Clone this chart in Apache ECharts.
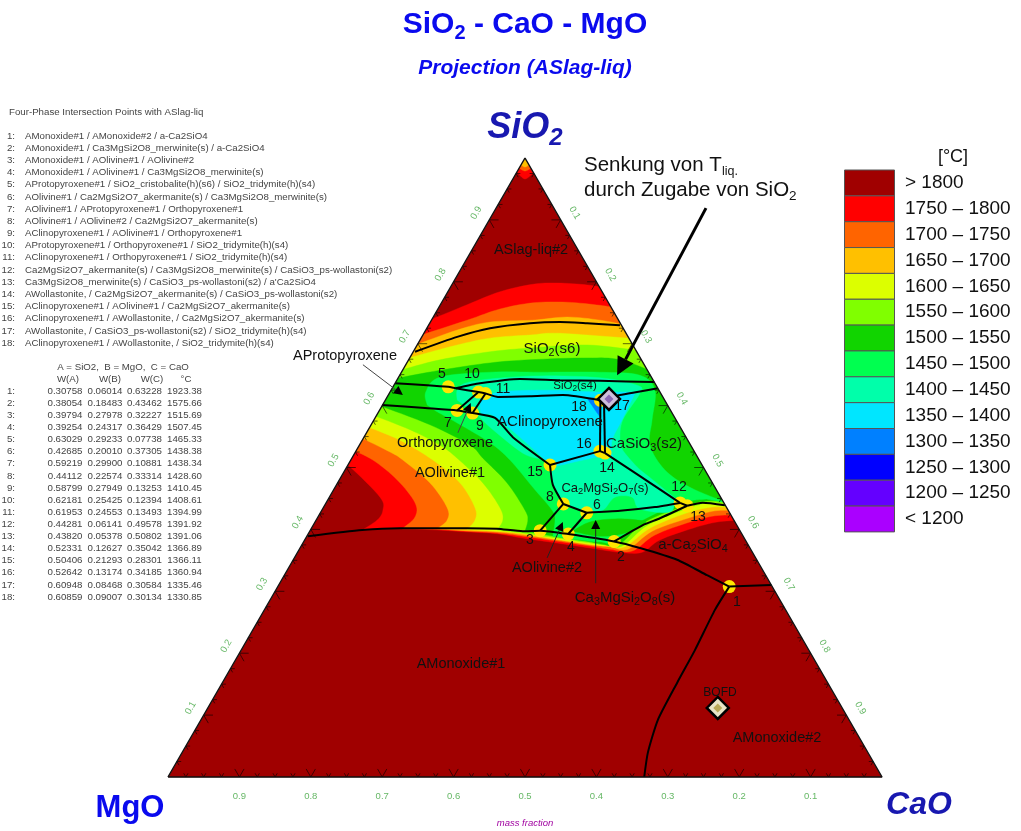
<!DOCTYPE html>
<html>
<head>
<meta charset="utf-8">
<title>SiO2 - CaO - MgO</title>
<style>
html,body{margin:0;padding:0;background:#fff}
#main{width:1021px;height:831px}
</style>
<script src="https://cdn.jsdelivr.net/npm/echarts@6/dist/echarts.min.js"></script>
</head>
<body>
<div id="main"></div>
<script>
// four-phase points, mass fractions
const pointNames = [
  'AMonoxide#1 / AMonoxide#2 / a-Ca2SiO4',
  'AMonoxide#1 / Ca3MgSi2O8_merwinite(s) / a-Ca2SiO4',
  'AMonoxide#1 / AOlivine#1 / AOlivine#2',
  'AMonoxide#1 / AOlivine#1 / Ca3MgSi2O8_merwinite(s)',
  'AProtopyroxene#1 / SiO2_cristobalite(h)(s6) / SiO2_tridymite(h)(s4)',
  'AOlivine#1 / Ca2MgSi2O7_akermanite(s) / Ca3MgSi2O8_merwinite(s)',
  'AOlivine#1 / AProtopyroxene#1 / Orthopyroxene#1',
  'AOlivine#1 / AOlivine#2 / Ca2MgSi2O7_akermanite(s)',
  'AClinopyroxene#1 / AOlivine#1 / Orthopyroxene#1',
  'AProtopyroxene#1 / Orthopyroxene#1 / SiO2_tridymite(h)(s4)',
  'AClinopyroxene#1 / Orthopyroxene#1 / SiO2_tridymite(h)(s4)',
  'Ca2MgSi2O7_akermanite(s) / Ca3MgSi2O8_merwinite(s) / CaSiO3_ps-wollastoni(s2)',
  "Ca3MgSi2O8_merwinite(s) / CaSiO3_ps-wollastoni(s2) / a'Ca2SiO4",
  'AWollastonite, / Ca2MgSi2O7_akermanite(s) / CaSiO3_ps-wollastoni(s2)',
  'AClinopyroxene#1 / AOlivine#1 / Ca2MgSi2O7_akermanite(s)',
  'AClinopyroxene#1 / AWollastonite, / Ca2MgSi2O7_akermanite(s)',
  'AWollastonite, / CaSiO3_ps-wollastoni(s2) / SiO2_tridymite(h)(s4)',
  'AClinopyroxene#1 / AWollastonite, / SiO2_tridymite(h)(s4)'
];
const wA = ['0.30758','0.38054','0.39794','0.39254','0.63029','0.42685','0.59219','0.44112','0.58799','0.62181','0.61953','0.44281','0.43820','0.52331','0.50406','0.52642','0.60948','0.60859'];
const wB = ['0.06014','0.18483','0.27978','0.24317','0.29233','0.20010','0.29900','0.22574','0.27949','0.25425','0.24553','0.06141','0.05378','0.12627','0.21293','0.13174','0.08468','0.09007'];
const wC = ['0.63228','0.43462','0.32227','0.36429','0.07738','0.37305','0.10881','0.33314','0.13253','0.12394','0.13493','0.49578','0.50802','0.35042','0.28301','0.34185','0.30584','0.30134'];
const tempC = ['1923.38','1575.66','1515.69','1507.45','1465.33','1438.38','1438.34','1428.60','1410.45','1408.61','1394.99','1391.92','1391.06','1366.89','1366.11','1360.94','1335.46','1330.85'];

// legend
const legendLabels = ['> 1800','1750 – 1800','1700 – 1750','1650 – 1700','1600 – 1650','1550 – 1600','1500 – 1550','1450 – 1500','1400 – 1450','1350 – 1400','1300 – 1350','1250 – 1300','1200 – 1250','< 1200'];
const legendColors = ['#a00000','#ff0000','#ff6400','#ffc000','#dcff00','#80ff00','#11d400','#00ff50','#00ffaa','#00e6ff','#0080ff','#0000ff','#6400ff','#aa00ff'];

// isotherms as [x, SiO2], x = CaO + SiO2/2.
// each one is a few curve pieces, joined straight outside the triangle
const cap1800 = [[[.5,1],[.4888,.9774]],[[.4888,.9774],[.5,.9661],[.5126,.9774]]];
const cap1750 = [[[.5,1],[.4916,.9838]],[[.4916,.9838],[.5,.979],[.5084,.9838]]];
const cap1700 = [[[.5,1],[.4944,.9887]],[[.4944,.9887],[.5,.9855],[.5056,.9887]]];
const iso1800 = [
  [[.360,.735],[.419,.763],[.465,.784],[.511,.796],[.545,.798],[.587,.795],[.613,.790]],
  [[.801,.415],[.769,.412],[.735,.402],[.689,.383],[.664,.363],[.633,.363],[.591,.370],[.545,.378],[.497,.386],[.461,.393],[.419,.396],[.377,.399],[.325,.401],[.272,.399]],
  [[.272,.399],[.293,.415],[.301,.431],[.297,.452],[.255,.501],[.238,.512]]
];
const iso1750 = [
  [[.347,.711],[.419,.738],[.465,.756],[.511,.766],[.559,.767],[.605,.762],[.627,.758]],
  [[.798,.423],[.766,.422],[.731,.412],[.682,.391],[.650,.365],[.619,.368],[.591,.373],[.545,.381],[.497,.389],[.461,.394],[.419,.397],[.377,.400],[.328,.401]],
  [[.328,.401],[.346,.420],[.346,.443],[.321,.480],[.287,.512],[.255,.530]]
];
const iso1700 = [
  [[.340,.695],[.405,.722],[.451,.735],[.511,.738],[.559,.743],[.605,.738],[.641,.730]],
  [[.794,.430],[.766,.430],[.728,.418],[.678,.397],[.644,.368],[.619,.372],[.591,.375],[.545,.383],[.497,.391],[.461,.396],[.419,.398],[.377,.401]],
  [[.377,.401],[.391,.415],[.391,.435],[.367,.475],[.329,.512],[.311,.525],[.269,.549]]
];
const iso1650 = [
  [[.332,.675],[.395,.695],[.451,.709],[.507,.714],[.539,.717],[.587,.714],[.654,.708]],
  [[.791,.435],[.762,.436],[.725,.426],[.675,.402],[.640,.372],[.616,.373],[.591,.376],[.545,.384],[.497,.393],[.461,.397],[.419,.400]],
  [[.419,.400],[.430,.415],[.430,.435],[.409,.475],[.371,.512],[.325,.544],[.277,.567]]
];
const iso1600 = [
  [[.322,.656],[.381,.674],[.451,.687],[.507,.693],[.587,.698],[.664,.688]],
  [[.789,.439],[.759,.443],[.725,.433],[.672,.407],[.636,.373],[.612,.375],[.591,.378],[.545,.386],[.497,.394],[.461,.399]],
  [[.461,.399],[.469,.415],[.465,.435],[.441,.475],[.405,.515],[.381,.536],[.339,.561],[.286,.585]]
];
const iso1550 = [
  [[.315,.643],[.381,.657],[.451,.669],[.507,.674],[.587,.677],[.633,.674],[.683,.653]],
  [[.786,.444],[.756,.446],[.723,.438],[.668,.412],[.632,.376],[.608,.376],[.591,.380],[.545,.388],[.500,.397]],
  [[.500,.397],[.504,.415],[.500,.431],[.475,.475],[.441,.515],[.423,.536],[.367,.569],[.294,.601]]
];
const iso1500 = [
  [[.363,.601],[.361,.622],[.381,.646],[.451,.654],[.521,.654],[.605,.654],[.661,.649],[.682,.625],[.678,.577],[.675,.536],[.696,.496],[.731,.468],[.783,.443]],
  [[.754,.449],[.720,.443],[.665,.415],[.627,.380],[.605,.380],[.591,.381],[.539,.389]],
  [[.539,.389],[.542,.415],[.538,.431],[.511,.468],[.479,.512],[.451,.540],[.405,.572],[.377,.590],[.363,.601]]
];
const patch1500 = [[[.566,.397],[.591,.412],[.626,.417],[.658,.415],[.669,.410],[.640,.394],[.605,.389],[.566,.397]]];
const iso1450 = [
  [[.405,.609],[.405,.625],[.416,.636],[.451,.643],[.521,.648],[.605,.645],[.657,.633],[.661,.620],[.637,.577],[.633,.544],[.637,.528],[.657,.501],[.679,.480],[.710,.451]],
  [[.710,.451],[.703,.428],[.661,.433],[.650,.452],[.626,.452],[.609,.431],[.587,.428],[.553,.443],[.539,.475],[.528,.509],[.497,.523],[.451,.565],[.433,.585],[.405,.609]]
];
const iso1400 = [
  [[.437,.609],[.465,.622],[.531,.625],[.601,.622],[.655,.622]],
  [[.655,.622],[.636,.577],[.622,.544],[.622,.515]],
  [[.622,.515],[.615,.520],[.539,.501]],
  [[.539,.501],[.461,.580],[.440,.585],[.437,.609]]
];
const iso1350 = [[[.587,.612],[.608,.614]],[[.608,.614],[.605,.582]],[[.605,.582],[.598,.593],[.587,.612]]];

// phase boundaries, a plain number is a row of the table
const boundaries = [
  [[.196,.389],[.272,.399],[.325,.402],[.377,.402],[.419,.402],[.461,.401],[.497,.397],3,4,2,[.661,.370],[.713,.351],[.755,.326],1],
  [1,[.845,.310]],
  [1,[.766,.270],[.738,.205],[.713,.152],[.686,.092],[.672,.039],[.667,0]],
  [[.346,.687],[.405,.711],[.451,.725],[.507,.733],[.549,.735],[.587,.733],[.633,.730]],
  [[.318,.636],[.363,.633],5,[.403,.628],10,11,[.462,.614],[.507,.615],[.553,.617],18],
  [[.403,.628],[.437,.636],[.493,.643],[.549,.641],[.605,.640],[.681,.638]],
  [17,[.633,.617],[.657,.622],[.686,.628]],
  [[.300,.601],[.360,.596],7,9,[.458,.580],[.483,.549],15],
  [10,7],[11,9],[18,16],[17,14],[16,14],[15,16],
  [15,[.539,.472],8],[8,3],[8,6],[6,4],
  [6,[.633,.430],[.682,.436],12],[12,13],
  [13,[.749,.443],[.780,.439]],
  [2,[.665,.407],[.689,.418],13],
  [14,[.661,.486],12]
];

// arrows [x0, SiO2 0, x1, SiO2 1]
const arrowData = [[.7535,.919,.629,.649],[.273,.666,.329,.617],[.406,.556,.424,.604],[.531,.354,.553,.412],[.599,.313,.599,.415]];
const arrowWidths = [3,1,1,1,1];
const arrowHeads = [18,9,9,9,9];
const arrowColors = ['#000','#444','#444','#222','#222'];

// the two sample points
const sampleAfter = [[.6176,.6107]];
const sampleBofd = [[.770,.1115]];

// tick labels
const tickValues = [.1,.2,.3,.4,.5,.6,.7,.8,.9];

const phaseLabels = [
  ['{a|ASlag-liq#2}',531,250,14.5],['{a|SiO}{s|2}{a|(s6)}',552,349,15],['{a|SiO}{s|2}{a|(s4)}',575,386,11.5],['{a|AClinopyroxene}',550,422,15],
  ['{a|CaSiO}{s|3}{a|(s2)}',644,444,15],['{a|Orthopyroxene}',445,443,14.5],['{a|AOlivine#1}',450,473,14.5],['{a|Ca}{s|2}{a|MgSi}{s|2}{a|O}{s|7}{a|(s)}',605,488,13],
  ['{a|a-Ca}{s|2}{a|SiO}{s|4}',693,545,15],['{a|Ca}{s|3}{a|MgSi}{s|2}{a|O}{s|8}{a|(s)}',625,598,15],['{a|AOlivine#2}',547,568,14.5],['{a|AMonoxide#1}',461,664,14.5],
  ['{a|AMonoxide#2}',777,738,14.5],['{a|BOFD}',720,693,12],['{a|AProtopyroxene}',345,356,14.5]
];
const numberLabels = [
  ['1',737,602],['2',621,557],['3',530,540],['4',571,547],['5',442,374],['6',597,505],['7',448,423],['8',550,497],['9',480,426],
  ['10',472,374],['11',503,389],['12',679,487],['13',698,517],['14',607,468],['15',535,472],['16',584,444],['17',622,406],['18',579,407]
];

const SANS = '"Liberation Sans", Arial, sans-serif';
const chart = echarts.init(document.getElementById('main'), null, {renderer:'canvas'});

function rowPoint(n) {
  const a = +wA[n-1], c = +wC[n-1];
  return [c + a/2, a];
}

// catmull-rom through the read points, only for drawing
function curve(pts) {
  if (pts.length < 3) return pts;
  const out = [];
  for (let i = 0; i < pts.length-1; i++) {
    const p0 = pts[Math.max(i-1,0)], p1 = pts[i], p2 = pts[i+1], p3 = pts[Math.min(i+2,pts.length-1)];
    for (let k = 0; k < 8; k++) {
      const t = k/8, t2 = t*t, t3 = t2*t;
      out.push([
        .5*(2*p1[0]+(p2[0]-p0[0])*t+(2*p0[0]-5*p1[0]+4*p2[0]-p3[0])*t2+(3*p1[0]-p0[0]-3*p2[0]+p3[0])*t3),
        .5*(2*p1[1]+(p2[1]-p0[1])*t+(2*p0[1]-5*p1[1]+4*p2[1]-p3[1])*t2+(3*p1[1]-p0[1]-3*p2[1]+p3[1])*t3)
      ]);
    }
  }
  out.push(pts[pts.length-1]);
  return out;
}

function region(sections, color, z) {
  return {
    type:'custom', coordinateSystem:'cartesian2d', silent:true, animation:false, z:z,
    data:[].concat.apply([], sections), encode:{x:0,y:1},
    renderItem:function(params, api) {
      if (params.dataIndex > 0) return null;
      let pts = [];
      sections.forEach(function(s){
        pts = pts.concat(curve(s.map(function(p){ return api.coord(p); })));
      });
      return {type:'polygon', shape:{points:pts}, style:{fill:color, stroke:color, lineWidth:.4}};
    }
  };
}

const series = [];
series.push(region([[[0,0],[.5,1]],[[.5,1],[1,0]]], '#a00000', 1));
[[cap1800,'#ff0000'],[cap1750,'#ff6400'],[cap1700,'#ffc000'],
 [iso1800,'#ff0000'],[iso1750,'#ff6400'],[iso1700,'#ffc000'],[iso1650,'#dcff00'],[iso1600,'#80ff00'],
 [iso1550,'#11d400'],[iso1500,'#00ff50'],[patch1500,'#11d400'],[iso1450,'#00ffaa'],[iso1400,'#00e6ff'],[iso1350,'#0080ff']
].forEach(function(r){ series.push(region(r[0], r[1], 1)); });

// white strips hide what sticks out of the triangle
series.push(region([[[0,0],[.5,1]],[[.47,1],[-.03,0]]], '#fff', 2));
series.push(region([[[1,0],[.5,1]],[[.53,1],[1.03,0]]], '#fff', 2));

// yellow spots
series.push({
  type:'scatter', silent:true, animation:false, z:3, symbol:'circle', symbolSize:13,
  itemStyle:{color:'#ffe600',opacity:1},
  data:wA.map(function(v,i){ return rowPoint(i+1); })
});

boundaries.forEach(function(b){
  series.push({
    type:'line', silent:true, animation:false, z:4, showSymbol:false, symbol:'none', smooth:.2,
    lineStyle:{color:'#000',width:2},
    data:b.map(function(p){ return typeof p === 'number' ? rowPoint(p) : p; })
  });
});

// triangle outline
series.push({
  type:'line', silent:true, animation:false, z:5, showSymbol:false, symbol:'none', clip:false,
  lineStyle:{color:'#111',width:1.5},
  data:[[0,0],[.5,1],[1,0],[0,0]]
});

// V ticks along the three sides, every 0.025
const tickPos = [];
for (let i = 1; i < 40; i++) tickPos.push([i*.025, i%4 === 0 ? .013 : .006]);
series.push({
  type:'custom', coordinateSystem:'cartesian2d', silent:true, animation:false, z:5,
  data:tickPos, encode:{x:0,y:1},
  renderItem:function(params, api) {
    const s = api.value(0), d = api.value(1);
    const segs = [
      [[s,0],[s+d/2,d]],[[s,0],[s-d/2,d]],
      [[s/2,s],[s/2+d,s]],[[s/2,s],[s/2+d/2,s-d]],
      [[1-s/2,s],[1-s/2-d,s]],[[1-s/2,s],[1-s/2-d/2,s-d]]
    ];
    return {type:'group', children:segs.map(function(g){
      const a = api.coord(g[0]), b = api.coord(g[1]);
      return {type:'line', shape:{x1:a[0],y1:a[1],x2:b[0],y2:b[1]}, style:{stroke:'rgba(0,0,0,.6)',lineWidth:1}};
    })};
  }
});

function tickLabels(data, rotate, offset) {
  return {
    type:'scatter', silent:true, animation:false, z:6, symbolSize:1, clip:false,
    itemStyle:{color:'rgba(0,0,0,0)'},
    label:{show:true, position:'inside', rotate:rotate, offset:offset, color:'#3fa53f', fontSize:9.5, fontFamily:SANS,
      formatter:function(p){ return p.data[2]; }},
    data:data
  };
}
// the offset of a rotated label turns with it
series.push(tickLabels(tickValues.map(function(t){ return [t/2, t, t.toFixed(1)]; }), 60, [-.4,-14.8]));
series.push(tickLabels(tickValues.map(function(t){ return [1-(1-t)/2, 1-t, t.toFixed(1)]; }), -60, [.9,-15.6]));
series.push(tickLabels(tickValues.map(function(t){ return [1-t, 0, t.toFixed(1)]; }), 0, [0,19]));

// sample markers
function sample(data, fill, core) {
  series.push({type:'scatter', silent:true, animation:false, z:7, symbol:'diamond', symbolSize:22,
    itemStyle:{color:fill,borderColor:'#000',borderWidth:2.5,opacity:1}, data:data});
  series.push({type:'scatter', silent:true, animation:false, z:8, symbol:'diamond', symbolSize:9,
    itemStyle:{color:core,opacity:1}, data:data});
}
sample(sampleAfter, '#cdbfdc', '#8a68b4');
sample(sampleBofd, '#e9e4c6', '#b9a858');

// arrows
series.push({
  type:'custom', coordinateSystem:'cartesian2d', silent:true, animation:false, z:9,
  data:arrowData, encode:{x:[0,2],y:[1,3]},
  renderItem:function(params, api) {
    const i = params.dataIndex, h = arrowHeads[i], w = arrowWidths[i], col = arrowColors[i];
    const a = api.coord([api.value(0),api.value(1)]), b = api.coord([api.value(2),api.value(3)]);
    const len = Math.hypot(b[0]-a[0], b[1]-a[1]), ux = (b[0]-a[0])/len, uy = (b[1]-a[1])/len;
    const bx = b[0]-ux*h, by = b[1]-uy*h, hw = h*.5;
    return {type:'group', children:[
      {type:'line', shape:{x1:a[0],y1:a[1],x2:bx,y2:by}, style:{stroke:col,lineWidth:w}},
      {type:'polygon', shape:{points:[b,[bx-uy*hw,by+ux*hw],[bx+uy*hw,by-ux*hw]]}, style:{fill:'#000'}}
    ]};
  }
});

// texts
const graphics = [];
function text(x, y, str, size, opts) {
  graphics.push({
    type:'text', x:x, y:y, z:100, silent:true,
    style:Object.assign({
      text:str, fontSize:size, fontFamily:SANS, fill:'#111',
      align:'center', textAlign:'center', verticalAlign:'middle', textVerticalAlign:'middle'
    }, opts || {})
  });
}
// text with a lowered small part, written {s|2}
function subText(x, y, str, size, subSize, opts) {
  const o = opts || {};
  const tok = {fontSize:size, fontFamily:SANS, fontWeight:o.fontWeight, fontStyle:o.fontStyle, fill:o.fill || '#111', lineHeight:size*1.25};
  text(x, y, str, size, Object.assign({}, o, {
    rich:{a:tok, s:Object.assign({}, tok, {fontSize:subSize, verticalAlign:'bottom'})}
  }));
}
const LEFT = {align:'left', textAlign:'left'};
const RIGHT = {align:'right', textAlign:'right'};
const TABLE = 9.7;

subText(525,25,'{a|SiO}{s|2}{a| - CaO - MgO}',30,20,{fontWeight:'bold',fill:'#0a0aee'});
text(525,68,'Projection (ASlag-liq)',21,{fontWeight:'bold',fontStyle:'italic',fill:'#0a0aee'});
subText(525,128,'{a|SiO}{s|2}',36,24,{fontWeight:'bold',fontStyle:'italic',fill:'#1818b0'});
text(130,808,'MgO',31,{fontWeight:'bold',fill:'#0a0aee'});
text(919,805,'CaO',32,{fontWeight:'bold',fontStyle:'italic',fill:'#1818b0'});
text(525,823,'mass fraction',9.5,{fontStyle:'italic',fill:'#a000a0'});

text(9,112,'Four-Phase Intersection Points with ASlag-liq',TABLE,Object.assign({fill:'#444'},LEFT));
pointNames.forEach(function(n,i){
  const y = 136 + i*12.18;
  text(15,y,(i+1)+':',TABLE,Object.assign({fill:'#444'},RIGHT));
  text(25,y,n,TABLE,Object.assign({fill:'#444'},LEFT));
});
text(123,367,'A = SiO2,  B = MgO,  C = CaO',TABLE,{fill:'#444'});
[['W(A)',68],['W(B)',110],['W(C)',152],['°C',186]].forEach(function(h){ text(h[1],379,h[0],TABLE,{fill:'#444'}); });
wA.forEach(function(v,i){
  const y = 391 + i*12.12;
  text(15,y,(i+1)+':',TABLE,Object.assign({fill:'#444'},RIGHT));
  text(65,y,wA[i],TABLE,{fill:'#444'});
  text(105,y,wB[i],TABLE,{fill:'#444'});
  text(144.5,y,wC[i],TABLE,{fill:'#444'});
  text(184.5,y,tempC[i],TABLE,{fill:'#444'});
});

phaseLabels.forEach(function(l){ subText(l[1],l[2],l[0],l[3],l[3]*.72); });
numberLabels.forEach(function(l){ text(l[1],l[2],l[0],14); });

subText(584,165,'{a|Senkung von T}{s|liq.}',20.5,12.5,LEFT);
subText(584,190,'{a|durch Zugabe von SiO}{s|2}',20.5,13.5,LEFT);

// colour legend
text(953,157,'[°C]',18);
legendLabels.forEach(function(l,i){
  graphics.push({type:'rect', z:100, silent:true, shape:{x:844.5,y:170+i*25.85,width:50,height:25.85},
    style:{fill:legendColors[i],stroke:'#555',lineWidth:1}});
  text(905,183+i*25.85,l,19,LEFT);
});

chart.setOption({
  animation:false,
  backgroundColor:'#fff',
  grid:{left:168,right:139,top:158,bottom:54,containLabel:false},
  xAxis:{type:'value',min:0,max:1,show:false},
  yAxis:{type:'value',min:0,max:1,show:false},
  graphic:{elements:graphics},
  series:series
});
</script>
</body>
</html>
